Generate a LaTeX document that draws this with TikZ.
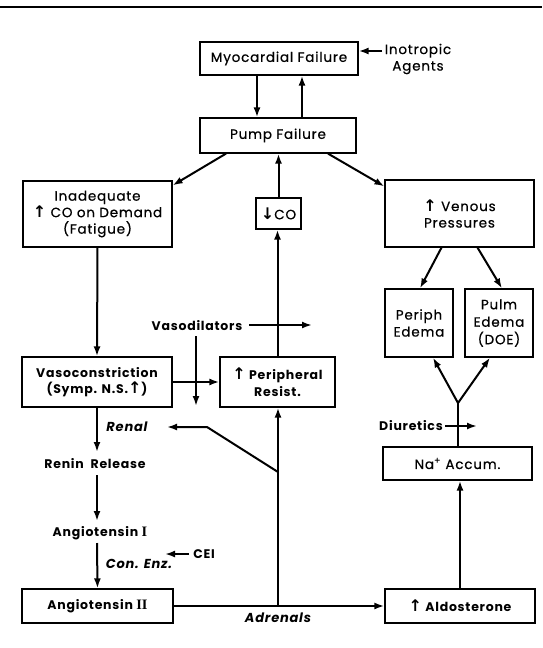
\documentclass[tikz,border=0pt]{standalone}
\usepackage{fontspec}
\setmainfont{Poppins}[LetterSpace=6,UprightFeatures={FakeBold=0.6}]
\newfontfamily\djv{DejaVu Sans}
\newfontfamily\serifrm{Liberation Serif}
\usetikzlibrary{arrows.meta}
\newcommand{\uparr}{{\djv\bfseries\fontsize{16}{16}\selectfont ↑}}
\newcommand{\dnarr}{{\djv\bfseries\fontsize{16}{16}\selectfont ↓}}
\newcommand{\regfont}{\fontsize{13.5}{16.5}\selectfont}
\newcommand{\bldfont}{\fontsize{12.5}{16.5}\selectfont\bfseries}
\newcommand{\itfont}{\fontsize{13}{16.5}\selectfont\bfseries\itshape}
\begin{document}
\begin{tikzpicture}[x=1pt,y=-1pt,
  box/.style={draw,line width=1.2pt,rectangle,inner sep=0pt,align=center,font=\regfont},
  lbl/.style={inner sep=0pt,align=center,font=\regfont},
  arr/.style={line width=2pt,-{Latex[length=10pt,width=7pt]}},
  ln/.style={line width=2pt}]
\useasboundingbox (0,0) rectangle (542,648);
\draw[line width=1.6pt] (0,7) -- (542,7);
% boxes
\node[box,minimum width=158pt,minimum height=33pt] (myo) at (279,58.5) {Myocardial Failure};
\node[lbl] (inot) at (418,59) {Inotropic\\Agents};
\node[box,minimum width=156pt,minimum height=35pt] (pump) at (278,135.5) {Pump Failure};
\node[box,minimum width=149pt,minimum height=66pt] (inad) at (97.5,214) {Inadequate\\\uparr\ CO on Demand\\(Fatigue)};
\node[box,minimum width=45pt,minimum height=31pt] (co) at (278.5,213.5) {\dnarr CO};
\node[box,minimum width=149pt,minimum height=67pt] (ven) at (459.5,213.5) {\uparr\ Venous\\Pressures};
\node[box,minimum width=68pt,minimum height=68pt,font=\fontsize{13.5}{17}\selectfont] (periph) at (419,323) {Periph\\Edema};
\node[box,minimum width=68pt,minimum height=68pt,font=\fontsize{13.5}{17.5}\selectfont] (pulm) at (499,323) {Pulm\\Edema\\(DOE)};
\node[box,minimum width=150pt,minimum height=50pt,font=\bldfont] (vaso) at (97,382) {Vasoconstriction\\(Symp. N.S.\uparr)};
\node[box,minimum width=115pt,minimum height=50pt,font=\bldfont] (pres) at (277.5,382) {\uparr\ Peripheral\\Resist.};
\node[lbl,font=\bldfont] (vdil) at (197,326) {Vasodilators};
\node[lbl,font=\itfont] (renal) at (127,427) {Renal};
\node[lbl,font=\bldfont] (renin) at (95,464) {Renin\ \ Release};
\node[lbl,font=\bldfont] (ang1) at (100,533) {Angiotensin {\serifrm\bfseries\Large I}};
\node[lbl,font=\itfont] (conenz) at (139,564) {Con. Enz.};
\node[lbl,font=\bldfont] (cei) at (204,554) {CEI};
\node[box,minimum width=151pt,minimum height=34pt,font=\bldfont] (ang2) at (97.5,606) {Angiotensin {\serifrm\bfseries\Large II}};
\node[lbl,font=\itfont] (adren) at (278,618) {Adrenals};
\node[box,minimum width=150pt,minimum height=34pt,font=\bldfont] (aldo) at (460,606) {\uparr\ Aldosterone};
\node[box,minimum width=149pt,minimum height=33pt] (na) at (457.5,463.5) {Na\textsuperscript{+} Accum.};
\node[lbl,font=\bldfont] (diur) at (411,426) {Diuretics};
% helper coordinates
\coordinate (inotE) at (382,51);
\coordinate (vdR) at (312,325);
\coordinate (vdL) at (249,325);
\coordinate (vdT) at (196,336);
\coordinate (vdB) at (196,406);
\coordinate (dL) at (445,426);
\coordinate (dR) at (477,426);
\coordinate (jY) at (458,403);
\coordinate (jA) at (278,606);
\coordinate (jB) at (278,472);
\coordinate (bend) at (207,427);
\coordinate (renT) at (167,427);
\coordinate (ceiW) at (189,554);
\coordinate (ceiT) at (165,554);
\coordinate (renTop) at (97,452);
\coordinate (renBot) at (97,475);
\coordinate (a1Top) at (97,521);
\coordinate (a1Bot) at (97,543);
% connectors
\draw[arr] ([xshift=-22pt]myo.south) -- ([xshift=-21pt]pump.north);
\draw[arr] ([xshift=24pt]pump.north) -- ([xshift=23pt]myo.south);
\draw[arr] (inotE) -- (inotE -| myo.east);
\draw[arr] ([xshift=-52pt]pump.south) -- ([yshift=-5pt]inad.north east);
\draw[arr] ([xshift=50pt]pump.south) -- ([yshift=-7pt]ven.north west);
\draw[arr] (co.north) -- (co.north |- pump.south);
\draw[arr] (pres.north) -- (pres.north |- co.south);
\draw[arr] (inad.south) -- (vaso.north);
\draw[arr] (vaso.east) -- (pres.west);
\draw[arr] (vdL) -- (vdR);
\draw[arr] (vdT) -- (vdB);
\draw[arr] ([xshift=-18pt]ven.south) -- ([xshift=1pt]periph.north);
\draw[arr] ([xshift=18pt]ven.south) -- ([xshift=3pt]pulm.north);
\draw[ln] (na.north -| jY) -- (jY);
\draw[arr] (jY) -- ([xshift=14pt]periph.south);
\draw[arr] (jY) -- ([xshift=-9pt]pulm.south);
\draw[arr] (dL) -- (dR);
\draw[arr] (aldo.north) -- (aldo.north |- na.south);
\draw[arr] (ang2.east) -- (aldo.west);
\draw[arr] (jA) -- (jA |- pres.south);
\draw[arr] (jB) -- (bend) -- (renT);
\draw[arr] (vaso.south) -- (renTop);
\draw[arr] (renBot) -- (a1Top);
\draw[arr] (a1Bot) -- (ang2.north);
\draw[arr] (ceiW) -- (ceiT);
\end{tikzpicture}
\end{document}
